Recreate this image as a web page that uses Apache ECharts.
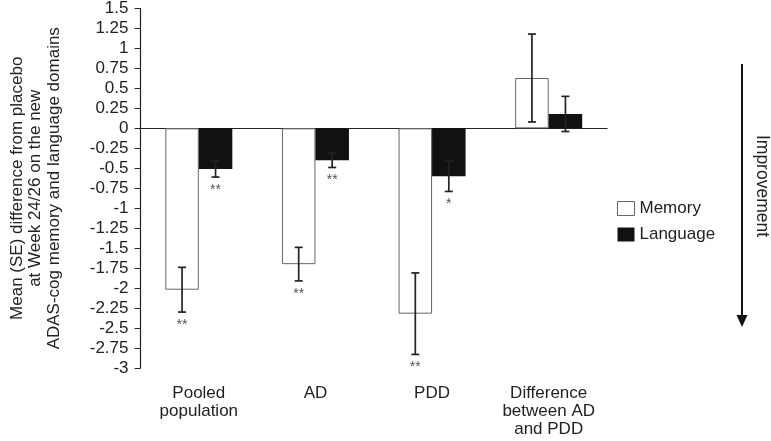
<!DOCTYPE html>
<html><head><meta charset="utf-8">
<script src="https://cdn.jsdelivr.net/npm/echarts@6/dist/echarts.min.js"></script>
<style>html,body{margin:0;padding:0;background:#fff}#c{width:771px;height:441px}</style>
</head><body><div id="c"></div>
<script>
const categories = ['Pooled\npopulation', 'AD', 'PDD', 'Difference\nbetween AD\nand PDD'];
const memory = [-2.02, -1.70, -2.32, 0.63];
const memorySE = [0.28, 0.21, 0.51, 0.55];
const language = [-0.51, -0.40, -0.60, 0.18];
const languageSE = [0.10, 0.09, 0.19, 0.22];
const memoryStars = ['**', '**', '**', ''];
const languageStars = ['**', '**', '*', ''];

const FONT = 'Liberation Sans, Arial, sans-serif';
const BARW = 33.5;

function errData(vals, se, stars) {
  return vals.map((v, i) => [i, v, v - se[i], v + se[i], stars[i]]);
}
function errRender(offset) {
  return function (params, api) {
    const i = api.value(0);
    const lo = api.coord([i, api.value(2)]);
    const hi = api.coord([i, api.value(3)]);
    const x = lo[0] + offset;
    const cap = 4;
    const style = { stroke: '#222', lineWidth: 1.7 };
    const children = [
      { type: 'line', shape: { x1: x, y1: hi[1], x2: x, y2: lo[1] }, style },
      { type: 'line', shape: { x1: x - cap, y1: hi[1], x2: x + cap, y2: hi[1] }, style },
      { type: 'line', shape: { x1: x - cap, y1: lo[1], x2: x + cap, y2: lo[1] }, style }
    ];
    const star = api.value(4);
    if (star) {
      children.push({ type: 'text', x: x, y: lo[1] + 13,
        style: { text: star, fill: '#555', font: '14px ' + FONT, align: 'center', verticalAlign: 'middle' } });
    }
    return { type: 'group', children };
  };
}

const chart = echarts.init(document.getElementById('c'), null, { renderer: 'canvas' });
chart.setOption({
  animation: false,
  backgroundColor: '#fff',
  grid: { left: 137, right: 164, top: 7, bottom: 73, containLabel: false },
  legend: {
    orient: 'vertical', left: 612, top: 195, itemWidth: 17, itemHeight: 14, itemGap: 9,
    textStyle: { fontFamily: FONT, fontSize: 17, color: '#222' },
    data: [
      { name: 'Memory', icon: 'rect', itemStyle: { color: '#fff', borderColor: '#666', borderWidth: 1 } },
      { name: 'Language', icon: 'rect', itemStyle: { color: '#111' } }
    ]
  },
  xAxis: [
    { type: 'category', data: categories, position: 'bottom',
      axisLine: { show: false, onZero: false }, axisTick: { show: false },
      axisLabel: { fontFamily: FONT, fontSize: 17, color: '#222', lineHeight: 18, margin: 16, interval: 0 } },
    { type: 'category', data: categories, gridIndex: 0,
      axisLine: { show: true, onZero: true, lineStyle: { color: '#222', width: 1.2 } },
      axisTick: { show: false }, axisLabel: { show: false } }
  ],
  yAxis: {
    type: 'value', min: -3, max: 1.5, interval: 0.25,
    name: 'Mean (SE) difference from placebo\nat Week 24/26 on the new\nADAS-cog memory and language domains',
    nameLocation: 'middle', nameRotate: 90, nameGap: 77,
    nameTextStyle: { fontFamily: FONT, fontSize: 17, color: '#222', lineHeight: 18.5, align: 'center' },
    axisLine: { show: true, lineStyle: { color: '#222', width: 1.2 } },
    axisTick: { show: true, inside: false, length: 6, lineStyle: { color: '#222' } },
    axisLabel: { fontFamily: FONT, fontSize: 17, color: '#222', margin: 12 },
    splitLine: { show: false }
  },
  series: [
    { name: 'Memory', type: 'bar', data: memory, barWidth: BARW, barGap: '0%',
      itemStyle: { color: '#fff', borderColor: '#666', borderWidth: 1 } },
    { name: 'Language', type: 'bar', data: language, barWidth: BARW, barGap: '0%',
      itemStyle: { color: '#111' } },
    { type: 'custom', name: 'memErr', data: errData(memory, memorySE, memoryStars),
      renderItem: errRender(-BARW / 2), z: 10, silent: true },
    { type: 'custom', name: 'langErr', data: errData(language, languageSE, languageStars),
      renderItem: errRender(BARW / 2), z: 10, silent: true }
  ],
  graphic: [
    { type: 'line', shape: { x1: 742, y1: 64, x2: 742, y2: 316 }, style: { stroke: '#111', lineWidth: 2 } },
    { type: 'polygon', shape: { points: [[736.5, 315], [747.5, 315], [742, 327]] }, style: { fill: '#111' } },
    { type: 'text', x: 762, y: 186, rotation: -Math.PI / 2,
      style: { text: 'Improvement', font: '17.5px ' + FONT, fill: '#222', align: 'center', verticalAlign: 'middle' } }
  ]
});
</script></body></html>
